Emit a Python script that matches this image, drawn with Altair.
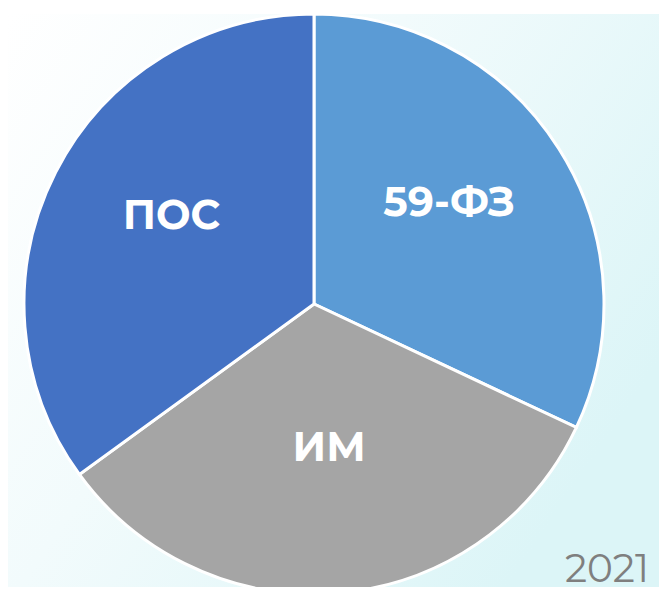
import altair as alt
import pandas as pd

categories = ["59-ФЗ", "ИМ", "ПОС"]
values = [32, 33, 35]
colors = ["#5B9BD5", "#A5A5A5", "#4472C4"]
year_label = "2021"

df = pd.DataFrame({"cat": categories, "val": values, "idx": list(range(len(categories)))})

W, H = 651, 579
CX, CY = 306, 290

bg = alt.Chart(pd.DataFrame({"a": [0]})).mark_rect(
    color=alt.Gradient(
        gradient="linear",
        stops=[alt.GradientStop(color="#ffffff", offset=0),
               alt.GradientStop(color="#f2fbfc", offset=0.45),
               alt.GradientStop(color="#dcf5f7", offset=1)],
        x1=0, x2=1, y1=0, y2=0.6,
    )
).encode(x=alt.value(0), x2=alt.value(W), y=alt.value(0), y2=alt.value(H))

base = alt.Chart(df).encode(
    theta=alt.Theta("val:Q", stack=True),
    order=alt.Order("idx:Q"),
)

arcs = base.mark_arc(outerRadius=290, stroke="white", strokeWidth=3).encode(
    color=alt.Color("cat:N", scale=alt.Scale(domain=categories, range=colors), legend=None),
    x=alt.value(CX), y=alt.value(CY),
)

labels = base.mark_text(
    radius=160, dy=-14, font="Montserrat, Open Sans", fontWeight="bold", fontSize=41,
    color="white", align="center", baseline="middle",
).encode(text="cat:N", x=alt.value(CX), y=alt.value(CY))

year = alt.Chart(pd.DataFrame({"t": [year_label]})).mark_text(
    font="Montserrat, Open Sans", fontWeight="normal", fontSize=39, color="#7f7f7f",
    align="right", baseline="bottom",
).encode(text="t:N", x=alt.value(641), y=alt.value(H - 3))

chart = alt.layer(bg, arcs, labels, year).properties(
    width=W, height=H, padding=0,
    autosize=alt.AutoSizeParams(type="fit", contains="padding"),
).configure_view(stroke=None).configure(background="#ffffff")

chart.save("out.html", embed_options={"renderer": "svg", "actions": False})
